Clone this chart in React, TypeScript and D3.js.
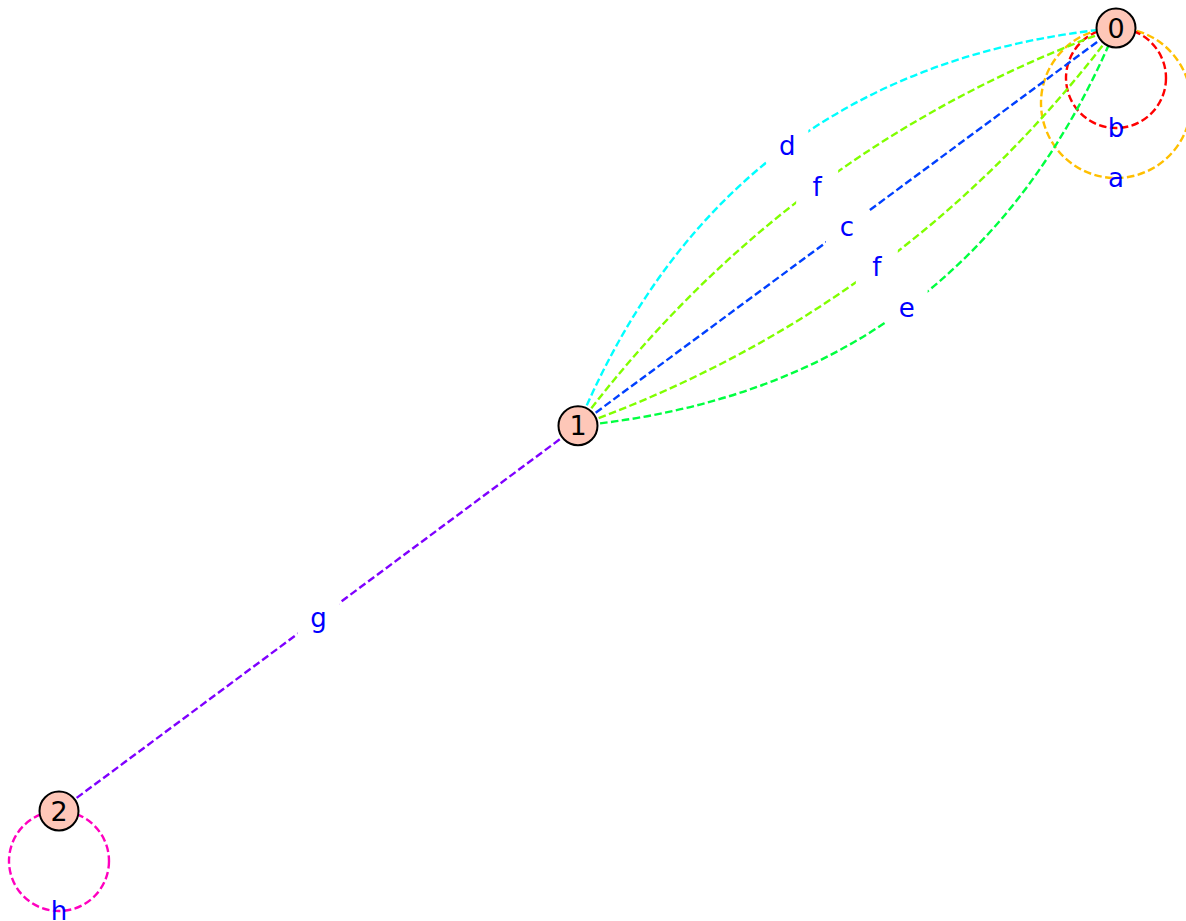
import React from 'react';
import { scaleLinear, path } from 'd3';

// layout coordinates of the vertices (spring layout, normalised)
const nodeIds = ['0', '1', '2'];
const nodeX = [1, 0.491, 0];
const nodeY = [1, 0.492, 0];

// edges between distinct vertices: source, target, label, colour, bend
const edgeSource = ['1', '1', '1', '1', '1', '2'];
const edgeTarget = ['0', '0', '0', '0', '0', '1'];
const edgeLabels = ['d', 'f', 'c', 'f', 'e', 'g'];
const edgeColors = ['#00ffff', '#80ff00', '#0040ff', '#80ff00', '#00ff40', '#7f00ff'];
const edgeBend = [-0.3, -0.15, 0, 0.15, 0.3, 0];

// loops: vertex, label, colour, size
const loopNode = ['0', '0', '2'];
const loopLabels = ['a', 'b', 'h'];
const loopColors = ['#ffbf00', '#ff0000', '#ff00bf'];
const loopSize = [1.5, 1, 1];

const width = 1186;
const height = 921;
const nodeR = 19.5;
const loopR = 50;
const lineW = 2.4;
const dash = '7.6 3.4';
const font = '"DejaVu Sans", sans-serif';

export default function App() {
    const xScale = scaleLinear().domain([0, 1]).range([59, 1116]);
    const yScale = scaleLinear().domain([0, 1]).range([811, 28]);

    const pos = (id: string) => {
        const i = nodeIds.indexOf(id);
        return [xScale(nodeX[i]), yScale(nodeY[i])];
    };

    const edges = edgeLabels.map((label, i) => {
        const [x1, y1] = pos(edgeSource[i]);
        const [x2, y2] = pos(edgeTarget[i]);
        const dx = x2 - x1;
        const dy = y2 - y1;
        const len = Math.sqrt(dx * dx + dy * dy);
        const nx = -dy / len;
        const ny = dx / len;
        const mx = (x1 + x2) / 2;
        const my = (y1 + y2) / 2;
        const off = edgeBend[i] * len;
        const p = path();
        p.moveTo(x1, y1);
        p.quadraticCurveTo(mx + nx * off, my + ny * off, x2, y2);
        return {
            d: p.toString(),
            color: edgeColors[i],
            label,
            lx: mx + nx * off / 2,
            ly: my + ny * off / 2,
        };
    });

    const loops = loopLabels.map((label, i) => {
        const [x, y] = pos(loopNode[i]);
        const r = loopR * loopSize[i];
        return { cx: x, cy: y + r, r, color: loopColors[i], label };
    });

    return (
        <svg width={width} height={height} style={{ position: 'absolute', left: 0, top: 0, background: '#fff' }}>
            {loops.map((l, i) => (
                <circle key={'l' + i} cx={l.cx} cy={l.cy} r={l.r} fill="none"
                    stroke={l.color} strokeWidth={lineW} strokeDasharray={dash} />
            ))}
            {edges.map((e, i) => (
                <path key={'e' + i} d={e.d} fill="none" stroke={e.color}
                    strokeWidth={lineW} strokeDasharray={dash} />
            ))}
            {edges.map((e, i) => (
                <g key={'t' + i}>
                    <rect x={e.lx - 21} y={e.ly - 20} width={42} height={40} fill="#fff" />
                    <text x={e.lx} y={e.ly} fill="#0000ff" fontFamily={font} fontSize="26px"
                        textAnchor="middle" dominantBaseline="central">{e.label}</text>
                </g>
            ))}
            {loops.map((l, i) => (
                <text key={'lt' + i} x={l.cx} y={l.cy + l.r} fill="#0000ff" fontFamily={font}
                    fontSize="26px" textAnchor="middle" dominantBaseline="central">{l.label}</text>
            ))}
            {nodeIds.map((id) => {
                const [x, y] = pos(id);
                return (
                    <g key={'n' + id}>
                        <circle cx={x} cy={y} r={nodeR} fill="#fec7b8" stroke="#000" strokeWidth={2} />
                        <text x={x} y={y} fill="#000" fontFamily={font} fontSize="27px"
                            textAnchor="middle" dominantBaseline="central">{id}</text>
                    </g>
                );
            })}
        </svg>
    );
}
